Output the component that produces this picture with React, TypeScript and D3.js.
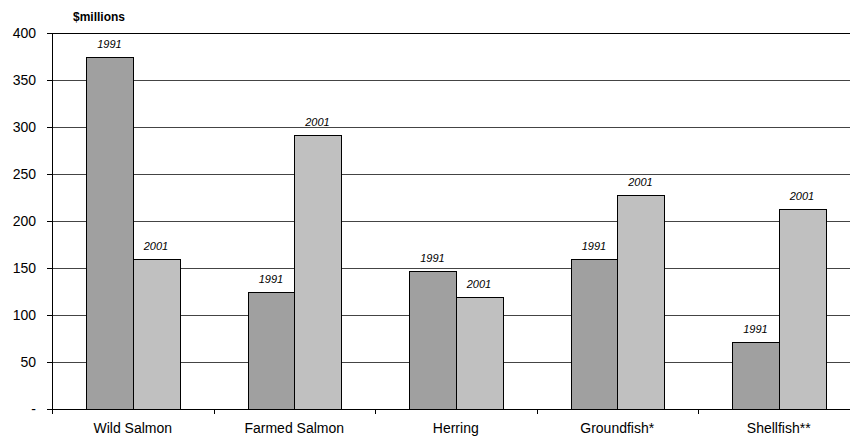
import React from "react";
import * as d3 from "d3";

const categories = ["Wild Salmon", "Farmed Salmon", "Herring", "Groundfish*", "Shellfish**"];
const series1991 = [374, 125, 147, 160, 71];
const series2001 = [160, 291, 119, 228, 213];
const seriesNames = ["1991", "2001"];
const yTicks = [0, 50, 100, 150, 200, 250, 300, 350, 400];
const yTickLabels = ["-", "50", "100", "150", "200", "250", "300", "350", "400"];

const W = 850;
const H = 436;
const left = 52;
const bandW = 161.5;
const top = 33;
const bottom = 409;
const font = "'Liberation Sans', Arial, sans-serif";

export default function App() {
  const x = d3
    .scaleBand<string>()
    .domain(categories)
    .range([left, left + bandW * categories.length])
    .paddingInner(0)
    .paddingOuter(0);
  const inner = d3.scaleBand<string>().domain(seriesNames).range([-46.5, 46.5]);
  const y = d3.scaleLinear().domain([0, 400]).range([bottom, top]);
  const fills = ["#a0a0a0", "#c0c0c0"];
  const data = [series1991, series2001];

  return (
    <svg width={W} height={H} style={{ position: "absolute", left: 0, top: 0, background: "#fff" }}>
      <rect x={0} y={0} width={W} height={H} fill="#fff" />
      {yTicks.map((t, i) => (
        <g key={t}>
          {t > 0 && (
            <line x1={left} x2={W} y1={Math.round(y(t)) + 0.5} y2={Math.round(y(t)) + 0.5} stroke={t === 400 ? "#000" : "#444"} strokeWidth={1} />
          )}
          <line x1={left - 5} x2={left} y1={Math.round(y(t)) + 0.5} y2={Math.round(y(t)) + 0.5} stroke="#000" />
          <text x={36} y={y(t) + 5} textAnchor="end" fontFamily={font} fontSize={14} fill="#000">
            {yTickLabels[i]}
          </text>
        </g>
      ))}
      {categories.map((c, ci) => {
        const cx = (x(c) as number) + x.bandwidth() / 2;
        return (
          <g key={c}>
            {seriesNames.map((s, si) => {
              const v = data[si][ci];
              const bx = cx + (inner(s) as number);
              const ty = Math.round(y(v));
              return (
                <g key={s}>
                  <rect
                    x={Math.round(bx) + 0.5}
                    y={ty + 0.5}
                    width={Math.round(inner.bandwidth())}
                    height={bottom - ty}
                    fill={fills[si]}
                    stroke="#000"
                    strokeWidth={1}
                  />
                  <text
                    x={bx + inner.bandwidth() / 2}
                    y={y(v) - 9}
                    textAnchor="middle"
                    fontFamily={font}
                    fontStyle="italic"
                    fontSize={11}
                    fill="#000"
                  >
                    {s}
                  </text>
                </g>
              );
            })}
            <text x={cx} y={433} textAnchor="middle" fontFamily={font} fontSize={14} fill="#000">
              {c}
            </text>
          </g>
        );
      })}
      {categories.map((c) => (
        <line key={"t" + c} x1={Math.round(x(c) as number) + 0.5} x2={Math.round(x(c) as number) + 0.5} y1={bottom} y2={bottom + 5} stroke="#000" />
      ))}
      <line x1={left + 0.5} x2={left + 0.5} y1={top} y2={bottom + 0.5} stroke="#000" />
      <line x1={left} x2={W} y1={bottom + 0.5} y2={bottom + 0.5} stroke="#000" />
      <text x={73} y={21} fontFamily={font} fontWeight="bold" fontSize={12} fill="#000">
        $millions
      </text>
    </svg>
  );
}
